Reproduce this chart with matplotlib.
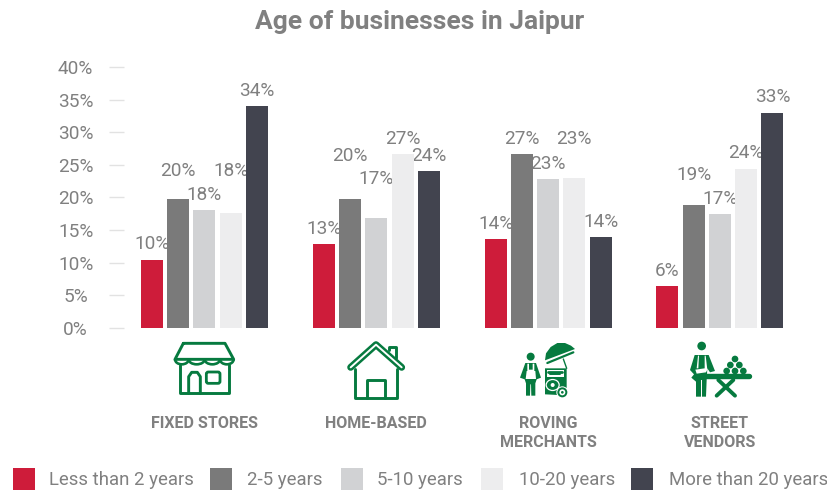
import matplotlib
matplotlib.use("Agg")
import matplotlib.pyplot as plt
from matplotlib.patches import Arc, Circle, Ellipse, Polygon, Rectangle, FancyBboxPatch

plt.rcParams['font.family'] = ['Roboto', 'DejaVu Sans']

title = "Age of businesses in Jaipur"
categories = ["FIXED STORES", "HOME-BASED", "ROVING\nMERCHANTS", "STREET\nVENDORS"]
series_names = ["Less than 2 years", "2-5 years", "5-10 years", "10-20 years", "More than 20 years"]
less_than_2 = [10.45, 12.8, 13.6, 6.4]
y2_5 = [19.7, 19.8, 26.6, 18.8]
y5_10 = [18.05, 16.8, 22.8, 17.4]
y10_20 = [17.6, 26.6, 23.0, 24.4]
more_than_20 = [34.0, 24.0, 13.9, 33.0]
colors = ["#CE1C3A", "#7A7A7A", "#D1D2D4", "#EDEDEE", "#42444F"]
yticks = [0, 5, 10, 15, 20, 25, 30, 35, 40]
# extra lift (px) of value labels that the reference moved up to avoid collisions
label_lift = [[0, 0, 0, 0], [13, 27, 0, 15], [0, 24, 0, 0], [27, 0, 24, 0], [0, 0, 0, 0]]

TXT = "#808080"
GREEN = "#067A3F"
W, H = 828, 493
PITCH = 171.8

fig = plt.figure(figsize=(W / 100, H / 100), dpi=100, facecolor="white")
ax = fig.add_axes([124 / W, 1 - 327.7 / H, (W - 124) / W, (327.7 - 67) / H])
all_series = [less_than_2, y2_5, y5_10, y10_20, more_than_20]
step = 26.25 / PITCH
bw = 22 / PITCH
for i, (vals, c) in enumerate(zip(all_series, colors)):
    xs = [g + (i - 2) * step for g in range(len(categories))]
    ax.bar(xs, vals, width=bw, color=c, zorder=3)
    for x, v, lift in zip(xs, vals, label_lift[i]):
        ax.annotate(f"{v:.0f}%", (x, v), xytext=(0, 7.4 + lift * 0.72), textcoords="offset points",
                    ha="center", va="baseline", fontsize=13.7, color=TXT, zorder=1)
ax.set_xlim((124 - 204.5) / PITCH, (W - 204.5) / PITCH)
ax.set_ylim(0, 40)
ax.set_yticks(yticks)
ax.set_yticklabels([f"{t}%" for t in yticks], fontsize=13.7, color=TXT, ha="center")
ax.tick_params(axis="y", length=10.8, width=1, color="#E2E2E2", pad=24)
ax.set_xticks(range(len(categories)))
ax.set_xticklabels(categories, fontsize=11.5, fontweight="bold", color=TXT, linespacing=1.32)
ax.tick_params(axis="x", length=0, pad=63.5)
for s in ax.spines.values():
    s.set_visible(False)
ax.patch.set_alpha(0)

fig.text(419.5 / W, 1 - 21.5 / H, title, ha="center", va="center", fontsize=19, fontweight="bold", color=TXT)

# overlay in pixel space for legend and icons
ov = fig.add_axes([0, 0, 1, 1], zorder=5)
ov.set_xlim(0, W)
ov.set_ylim(H, 0)
ov.axis("off")

legend_sq = [13, 210, 341, 481, 631]
legend_tx = [49, 247, 377, 519, 669]
for name, c, sx, tx in zip(series_names, colors, legend_sq, legend_tx):
    ov.add_patch(Rectangle((sx, 468), 22, 22, color=c, lw=0))
    ov.text(tx, 480, name, fontsize=13.45, color=TXT, va="center", ha="left")


def Z1(x, y):
    return 120 + x / 3, 330 + y / 3


def Z3(x, y):
    return 510 + x / 3, 335 + y / 3


def Z4(x, y):
    return 680 + x / 3, 335 + y / 3


def line(pts, z, lw=2.0, color=GREEN):
    p = [z(*q) for q in pts]
    ov.plot([a for a, _ in p], [b for _, b in p], color=color, lw=lw,
            solid_capstyle="round", solid_joinstyle="round")


def poly(pts, z, color=GREEN):
    ov.add_patch(Polygon([z(*q) for q in pts], closed=True, facecolor=color, edgecolor="none"))


def circ(x, y, r, z, color=GREEN):
    ov.add_patch(Circle(z(x, y), r / 3, facecolor=color, edgecolor="none"))


# fixed store
line([(190, 40), (315, 40), (341, 88), (165, 88), (190, 40)], Z1, 2.1)
for a, b in [(165, 206), (206, 254), (254, 300), (300, 341)]:
    cx, cy = Z1((a + b) / 2, 88)
    ov.add_patch(Arc((cx, cy), (b - a) / 3, 10, theta1=0, theta2=180, edgecolor=GREEN, lw=1.9))
line([(181, 105), (181, 190), (327, 190), (327, 105)], Z1, 2.1)
line([(206, 190), (206, 140), (215, 127), (232, 127), (241, 140), (241, 190)], Z1, 2.1)
x0, y0 = Z1(259, 126)
x1, y1 = Z1(300, 160)
ov.add_patch(FancyBboxPatch((x0, y0), x1 - x0, y1 - y0, boxstyle="round,pad=0,rounding_size=2",
                            facecolor="none", edgecolor=GREEN, lw=2.0))

# house
line([(692, 112), (768, 44), (845, 112)], Z1, 5.0)
line([(692, 112), (768, 44), (845, 112)], Z1, 1.4, "white")
line([(705, 118), (705, 203), (830, 203), (830, 118)], Z1, 2.1)
line([(742, 203), (742, 150), (795, 150), (795, 203)], Z1, 2.1)
line([(807, 60), (807, 50), (829, 50), (829, 85)], Z1, 2.1)

# roving merchant: person
circ(62, 65, 12, Z3)
poly([(46, 84), (78, 84), (93, 128), (80, 133), (76, 145), (76, 182), (64, 182), (63, 148), (61, 148),
      (60, 182), (48, 182), (48, 145), (44, 133), (30, 128)], Z3)
poly([(52, 86), (57, 86), (57, 104), (68, 104), (68, 86), (73, 86), (73, 108), (76, 108), (78, 132), (47, 132),
      (50, 108), (52, 108)], Z3, "white")
# umbrella
poly([(105, 76), (108, 55), (122, 36), (142, 24), (165, 24), (183, 32), (195, 42)], Z3)
line([(112, 84), (190, 52)], Z3, 1.6)
line([(160, 72), (170, 100)], Z3, 1.0)
# cart
poly([(105, 100), (170, 100), (170, 158), (145, 180), (105, 178)], Z3)
poly([(110, 106), (163, 106), (163, 126), (110, 126)], Z3, "white")
line([(114, 112), (155, 112)], Z3, 2.0)
line([(120, 118), (150, 118)], Z3, 1.4)
ov.add_patch(Ellipse(Z3(128, 150), 13, 11, fill=False, edgecolor="white", lw=0.9))
circ(128, 150, 6, Z3, "white")
circ(157, 172, 18, Z3, "white")
circ(157, 172, 15, Z3)
circ(157, 172, 9, Z3, "white")
circ(157, 172, 4, Z3)

# street vendor
circ(65, 33, 13, Z4)
poly([(44, 60), (86, 60), (105, 108), (90, 112), (82, 100), (80, 134), (78, 185), (48, 185), (48, 140),
      (34, 128), (42, 118), (30, 105)], Z4)
poly([(54, 62), (57, 62), (55, 100), (50, 100)], Z4, "white")
poly([(74, 62), (77, 62), (82, 104), (78, 112), (50, 116), (46, 104), (74, 100)], Z4, "white")
poly([(62, 135), (65, 135), (65, 185), (62, 185)], Z4, "white")
line([(66, 122), (206, 122)], Z4, 3.9)
line([(110, 182), (160, 135)], Z4, 2.8)
line([(115, 135), (165, 182)], Z4, 2.8)
for x, y, in [(140, 108), (165, 108), (190, 108), (151, 90), (178, 90), (165, 72)]:
    circ(x, y, 10, Z4)

fig.savefig("out.png", dpi=100)
